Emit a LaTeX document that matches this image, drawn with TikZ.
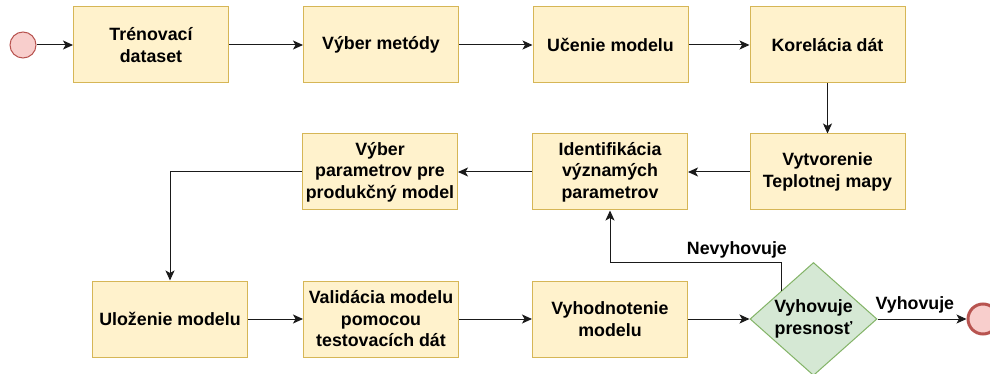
\documentclass[tikz,border=0pt]{standalone}
\usepackage{fontspec}
\setmainfont{Liberation Sans}
\usetikzlibrary{arrows.meta,shapes.geometric,calc}
\definecolor{boxfill}{HTML}{FFF2CC}
\definecolor{boxline}{HTML}{D6B656}
\definecolor{decfill}{HTML}{D5E8D4}
\definecolor{decline}{HTML}{82B366}
\definecolor{evfill}{HTML}{F8CECC}
\definecolor{evline}{HTML}{B85450}
\definecolor{flow}{HTML}{1A1A1A}
\begin{document}
\begin{tikzpicture}[x=1pt,y=1pt,
  every node/.style={font=\fontsize{17.8}{21.5}\selectfont\bfseries},
  stepbox/.style={draw=boxline,fill=boxfill,line width=1pt,minimum width=155pt,minimum height=76pt,align=center,inner sep=2pt},
  decision/.style={diamond,draw=decline,fill=decfill,line width=1pt,minimum width=127pt,minimum height=113pt,aspect=1.12,align=center,inner sep=0pt},
  startev/.style={circle,draw=evline,fill=evfill,line width=1pt,minimum size=26pt,inner sep=0pt},
  endev/.style={circle,draw=evline,fill=evfill,line width=3pt,minimum size=30pt,inner sep=0pt},
  flowline/.style={draw=flow,line width=1pt,-{Stealth[length=10pt,width=9pt,inset=2.5pt]}},
  lbl/.style={inner sep=1pt}]
\useasboundingbox (0,0) rectangle (990,-374);

% upper row
\node[startev] (start) at (23,-45) {};
\node[stepbox] (train) at (151,-45) {Trénovací\\dataset};
\node[stepbox] (method) at (381,-45) {Výber metódy};
\node[stepbox] (learn) at (610.5,-45) {Učenie modelu};
\node[stepbox] (corr) at (827.5,-45) {Korelácia dát};

% middle row
\node[stepbox] (heat) at (827.5,-172) {Vytvorenie\\Teplotnej mapy};
\node[stepbox] (ident) at (610,-172) {Identifikácia\\významých\\parametrov};
\node[stepbox] (select) at (380,-172) {Výber\\parametrov pre\\produkčný model};

% lower row
\node[stepbox] (save) at (170,-319) {Uloženie modelu};
\node[stepbox] (valid) at (381,-319) {Validácia modelu\\pomocou\\testovacích dát};
\node[stepbox] (eval) at (610,-319) {Vyhodnotenie\\modelu};
\node[decision] (acc) at (813.5,-319) {Vyhovuje\\presnosť};
\node[endev] (stop) at (983,-319) {};

% connectors
\draw[flowline] (start) -- (train);
\draw[flowline] (train) -- (method);
\draw[flowline] (method) -- (learn);
\draw[flowline] (learn) -- (corr);
\draw[flowline] (corr) -- (heat);
\draw[flowline] (heat) -- (ident);
\draw[flowline] (ident) -- (select);
\draw[flowline] (select.west) -| (save.north);
\draw[flowline] (save) -- (valid);
\draw[flowline] (valid) -- (eval);
\draw[flowline] (eval) -- (acc);
\draw[flowline] (acc.east) -- node[lbl,above=4pt,pos=0.42] (yes) {Vyhovuje} (stop.west);
\coordinate (fail) at ($(acc.west)!0.5!(acc.north)$);
\coordinate (bend) at ($(fail)+(0,28)$);
\draw[flowline] (fail) -- (bend) -| node[lbl,above=3pt,pos=0.13] (no) {Nevyhovuje} (ident.south);
\end{tikzpicture}
\end{document}
